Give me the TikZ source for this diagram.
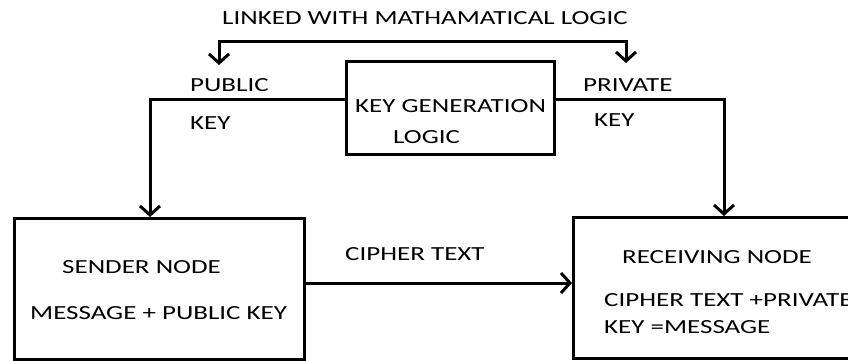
\documentclass[tikz,border=0pt]{standalone}
\usepackage{fontspec}
\setmainfont{Carlito}
\usetikzlibrary{arrows.meta}
\newcommand{\widetext}[1]{\scalebox{1.35}[1]{#1}}
\begin{document}
\begin{tikzpicture}[x=1pt,y=-1pt,
  box/.style={draw,line width=3pt,inner sep=0pt},
  barb/.tip={Straight Barb[length=9pt,width=20pt,line width=3pt]},
  flow/.style={line width=3pt,-barb},
  lbl/.style={anchor=base west,inner sep=0pt,font=\fontsize{20}{24}\selectfont}]
\useasboundingbox (0,0) rectangle (848,361);
\begin{scope}
\clip (0,0) rectangle (848,361);
% boxes
\coordinate (kgA) at (345,60);  \coordinate (snA) at (13,217);  \coordinate (rcA) at (572,216);
\node[box,minimum width=208pt,minimum height=93pt,anchor=north west] (kg) at (kgA) {};
\node[box,minimum width=290pt,minimum height=141pt,anchor=north west] (sn) at (snA) {};
\node[box,minimum width=308pt,minimum height=141pt,anchor=north west] (rc) at (rcA) {};
% corner points of the connectors
\coordinate (lt) at (150,99);
\coordinate (rt) at (724,99);
\coordinate (bl) at (219,42);
\coordinate (br) at (626,42);
\coordinate (blt) at (219,65);
\coordinate (brt) at (626,63);
\coordinate (cy) at (0,283);
% connectors
\draw[flow] (kg.west |- lt) -- (lt) -- (lt |- sn.north);
\draw[flow] (kg.east |- rt) -- (rt) -- (rt |- rc.north);
\draw[flow] (sn.east |- cy) -- (rc.west |- cy);
\draw[line width=3pt,barb-barb] (blt) -- (bl) -- (br) -- (brt);
% texts
\node[lbl] (t0) at (222,25) {\widetext{LINKED WITH MATHAMATICAL LOGIC}};
\node[lbl] (t1) at (190,92) {\widetext{PUBLIC}};
\node[lbl] (t2) at (190,129) {\widetext{KEY}};
\node[lbl] (t3) at (583,91) {\widetext{PRIVATE}};
\node[lbl] (t4) at (594,126) {\widetext{KEY}};
\node[lbl] (t5) at (355,112) {\widetext{KEY GENERATION}};
\node[lbl] (t6) at (393,143) {\widetext{LOGIC}};
\node[lbl] (t7) at (345,260) {\widetext{CIPHER TEXT}};
\node[lbl] (t8) at (62,273) {\widetext{SENDER NODE}};
\node[lbl] (t9) at (30,319) {\widetext{MESSAGE + PUBLIC KEY}};
\node[lbl] (t10) at (622,263) {\widetext{RECEIVING NODE}};
\node[lbl] (t11) at (604,306) {\widetext{CIPHER TEXT +PRIVATE}};
\node[lbl] (t12) at (604,333) {\widetext{KEY =MESSAGE}};
\end{scope}
\end{tikzpicture}
\end{document}
